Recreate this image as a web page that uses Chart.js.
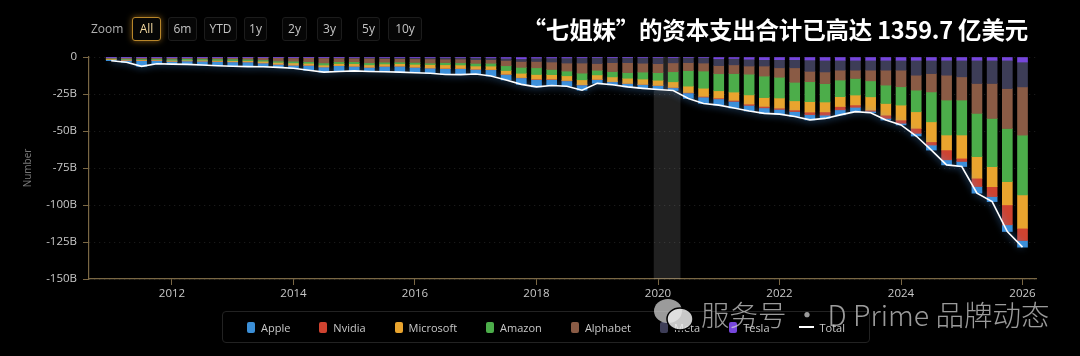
<!DOCTYPE html>
<html lang="zh">
<head>
<meta charset="utf-8">
<title>七姐妹 资本支出</title>
<script src="https://cdn.jsdelivr.net/npm/chart.js@4.4.1/dist/chart.umd.min.js"></script>
<style>
  html, body { margin: 0; padding: 0; background: #000; }
  body {
    width: 1080px; height: 356px; position: relative; overflow: hidden;
    font-family: "Open Sans", "Noto Sans", sans-serif;
  }
  #capex-chart { position: absolute; left: 0; top: 0; }
  .zoom-label { position: absolute; left: 91px; top: 20px; font-size: 12px; color: #b0b0b0; }
  .zoom-btn {
    position: absolute; top: 17px; height: 24px; box-sizing: border-box;
    border: 1px solid #1c1c1c; border-radius: 3px; background: #060606;
    color: #c4c4c4; font-size: 12px; line-height: 22px; text-align: center;
  }
  .zoom-btn.active {
    border-color: #b8862a; color: #f3d9a0;
    box-shadow: 0 0 6px rgba(230, 160, 40, 0.55);
  }
  .title {
    position: absolute; right: 52px; top: 12px; white-space: nowrap;
    font-family: "Noto Sans CJK SC", sans-serif; font-weight: 700;
    font-size: 23.5px; color: #fff; letter-spacing: -0.2px;
  }
  #legend {
    position: absolute; left: 222px; top: 311px; width: 648px; height: 32px;
    box-sizing: border-box; border: 1px solid #222; border-radius: 4px;
    display: flex; align-items: center; justify-content: center; gap: 29px;
    font-size: 11px; color: #c8c8c8;
  }
  #legend .item { display: flex; align-items: center; gap: 6px; }
  #legend .box { width: 8px; height: 11px; border-radius: 2px; }
  #legend .line { width: 15px; height: 2px; background: #fff; }
  .watermark {
    position: absolute; left: 652px; top: 293px; white-space: nowrap;
    font-size: 28.5px; color: rgba(215, 215, 215, 0.72);
    font-family: "Noto Sans CJK SC", sans-serif; font-weight: 300;
    display: flex; align-items: center; gap: 5px;
  }
</style>
</head>
<body>
<canvas id="capex-chart" width="1080" height="356"></canvas>

<div class="zoom-label">Zoom</div>
<div class="zoom-btn active" style="left:132px;width:29px;">All</div>
<div class="zoom-btn" style="left:168px;width:29px;">6m</div>
<div class="zoom-btn" style="left:204px;width:33px;">YTD</div>
<div class="zoom-btn" style="left:244px;width:23px;">1y</div>
<div class="zoom-btn" style="left:282px;width:25px;">2y</div>
<div class="zoom-btn" style="left:317px;width:25px;">3y</div>
<div class="zoom-btn" style="left:357px;width:23px;">5y</div>
<div class="zoom-btn" style="left:388px;width:34px;">10y</div>

<div class="title">“七姐妹”的资本支出合计已高达 1359.7 亿美元</div>

<div id="legend"></div>

<div class="watermark">
  <svg width="44" height="36" viewBox="0 0 44 36">
    <ellipse cx="16" cy="15" rx="14" ry="12" fill="rgba(215,215,215,0.72)"/>
    <ellipse cx="28" cy="23" rx="13" ry="11" fill="rgba(235,235,235,0.85)" stroke="#000" stroke-width="1.5"/>
  </svg>
  <span>服务号 · D Prime 品牌动态</span>
</div>

<script>
// Kuartal (akhir kuartal), dari 2010Q4 sampai 2025Q4
const quarters = [
  "2010Q4",
  "2011Q1", "2011Q2", "2011Q3", "2011Q4",
  "2012Q1", "2012Q2", "2012Q3", "2012Q4",
  "2013Q1", "2013Q2", "2013Q3", "2013Q4",
  "2014Q1", "2014Q2", "2014Q3", "2014Q4",
  "2015Q1", "2015Q2", "2015Q3", "2015Q4",
  "2016Q1", "2016Q2", "2016Q3", "2016Q4",
  "2017Q1", "2017Q2", "2017Q3", "2017Q4",
  "2018Q1", "2018Q2", "2018Q3", "2018Q4",
  "2019Q1", "2019Q2", "2019Q3", "2019Q4",
  "2020Q1", "2020Q2", "2020Q3", "2020Q4",
  "2021Q1", "2021Q2", "2021Q3", "2021Q4",
  "2022Q1", "2022Q2", "2022Q3", "2022Q4",
  "2023Q1", "2023Q2", "2023Q3", "2023Q4",
  "2024Q1", "2024Q2", "2024Q3", "2024Q4",
  "2025Q1", "2025Q2", "2025Q3", "2025Q4",
];

// Nilai dalam miliar USD (negatif, seperti di grafik)
const apple = [
  -0.7, -1.33, -3.85, -2.25, -1.79, -2.31, -2.58, -2.82, -2.9, -3.13, -2.56, -2.0, -2.08,
  -3.39, -3.48, -3.95, -3.14, -2.84, -3.73, -4.03, -3.67, -3.5, -4.0, -4.05, -3.18, -4.2,
  -3.75, -4.4, -5.0, -4.15, -3.7, -3.5, -2.55, -2.05, -2.23, -2.58, -2.65, -1.8,
  -3.7, -4.3, -4.2, -4.5, -3.8, -3.7, -3.2, -3.3, -3.5,
  -2.2, -3.4, -2.9, -1.0, -1.1, -1.1, -1.8, -3.4, -3.4, -3.4, -4.5, -3.4, -4.5, -4.5,
];
const nvidia = [
  -0.07, -0.08, -0.1, -0.1, -0.1, -0.12, -0.12, -0.12, -0.1, -0.1, -0.09, -0.08, -0.06,
  -0.05, -0.05, -0.05, -0.06, -0.06, -0.07, -0.07, -0.08, -0.1, -0.15, -0.15, -0.12, -0.15,
  -0.15, -0.2, -0.3, -0.25, -0.2, -0.2, -0.15, -0.1, -0.12, -0.12, -0.15, -0.25,
  -0.3, -0.5, -0.6, -0.7, -0.9, -1.0, -0.9, -1.1, -1.8,
  -2.2, -2.2, -1.6, -0.8, -2.2, -2.2, -3.4, -2.2, -6.7, -2.2, -5.6, -6.7, -13.5, -8.3,
];
const microsoft = [
  -0.45, -0.55, -0.6, -0.55, -0.65, -0.45, -0.55, -0.65, -0.75, -0.85, -1.1, -1.3, -1.5,
  -1.3, -1.25, -1.4, -1.7, -1.6, -1.5, -1.6, -1.9, -2.3, -2.4, -2.3, -2.1, -2.3,
  -2.5, -2.9, -3.1, -3.0, -3.2, -3.3, -3.0, -3.2, -3.5, -3.6, -3.5, -3.8,
  -4.3, -5.5, -4.9, -5.6, -6.2, -6.0, -6.8, -6.2, -7.0,
  -6.7, -6.7, -6.7, -9.0, -7.9, -10.1, -11.2, -13.5, -10.1, -15.7, -14.6, -13.5, -15.7, -22.5,
];
const amazon = [
  -0.3, -0.45, -0.5, -0.6, -0.9, -1.0, -0.9, -1.0, -1.1, -0.9, -0.9, -0.9, -1.1,
  -1.1, -1.4, -1.2, -1.3, -1.4, -1.2, -1.1, -1.3, -1.0, -1.5, -1.5, -1.8, -1.9,
  -3.2, -4.0, -4.5, -3.5, -3.2, -4.5, -3.1, -3.6, -3.8, -4.7, -5.1, -6.8,
  -10.5, -11.6, -11.5, -12.5, -14.0, -14.5, -14.0, -12.5, -13.5,
  -12.4, -11.2, -11.2, -10.8, -12.4, -12.4, -14.6, -20.2, -23.6, -23.6, -29.2, -32.6, -35.9, -40.4,
];
const alphabet = [
  -0.75, -0.9, -0.9, -0.7, -0.95, -0.6, -0.8, -0.9, -1.0, -1.2, -1.6, -2.3, -2.3,
  -2.7, -3.4, -2.5, -2.4, -3.0, -2.5, -2.3, -2.4, -2.8, -2.3, -2.5, -2.5, -2.5,
  -3.6, -4.0, -4.3, -5.0, -5.4, -6.8, -4.6, -6.0, -6.7, -6.0, -6.1, -6.0,
  -5.4, -5.4, -5.5, -5.9, -5.5, -6.8, -6.4, -9.8, -7.0,
  -7.9, -6.7, -5.6, -7.2, -10.1, -11.2, -10.1, -12.4, -16.8, -15.7, -20.2, -23.6, -27.0, -32.6,
];
const meta = [
  -0.2, -0.25, -0.3, -0.35, -0.35, -0.45, -0.4, -0.35, -0.3, -0.3, -0.3, -0.35, -0.5,
  -0.4, -0.45, -0.5, -0.5, -0.55, -0.6, -0.7, -0.8, -0.9, -1.1, -1.1, -1.5, -1.25,
  -1.5, -1.8, -2.3, -2.8, -3.5, -3.6, -4.1, -3.6, -3.6, -3.8, -4.1, -3.5,
  -3.5, -3.7, -4.6, -4.3, -4.6, -4.3, -5.5, -5.5, -7.7,
  -7.9, -6.7, -6.7, -6.7, -6.7, -6.7, -10.1, -9.0, -10.1, -11.2, -15.7, -15.7, -19.1, -16.8,
];
const tesla = [
  -0.03, -0.04, -0.05, -0.05, -0.06, -0.07, -0.05, -0.06, -0.05, -0.02, -0.05, -0.07, -0.06,
  -0.06, -0.17, -0.2, -0.3, -0.35, -0.4, -0.4, -0.45, -0.4, -0.35, -0.3, -0.3, -0.5,
  -0.8, -1.2, -0.7, -0.6, -0.6, -0.5, -0.3, -0.25, -0.25, -0.4, -0.4, -0.45,
  -0.3, -0.4, -1.2, -1.0, -1.5, -1.8, -1.8, -1.8, -2.0,
  -2.2, -2.2, -2.2, -2.2, -2.2, -2.2, -2.2, -2.2, -2.2, -2.2, -2.2, -2.2, -2.2, -3.4,
];
const total = [
  -2.5, -3.6, -6.3, -4.6, -4.8, -5.0, -5.4, -5.9, -6.2, -6.5, -6.6, -7.0, -7.6,
  -9.0, -10.2, -9.8, -9.4, -9.8, -10.0, -10.2, -10.6, -11.0, -11.8, -11.9, -11.5, -12.8,
  -15.5, -18.5, -20.2, -19.3, -19.8, -22.4, -17.8, -18.8, -20.2, -21.2, -22.0, -22.6,
  -28.0, -31.4, -32.5, -34.5, -36.5, -38.1, -38.6, -40.2, -42.5,
  -41.5, -39.1, -36.9, -37.7, -42.6, -45.9, -53.4, -62.9, -72.9, -74.0, -92.0, -97.7, -117.9, -128.5,
];

const yearTicks = [2012, 2014, 2016, 2018, 2020, 2022, 2024, 2026];
const highlightRange = [2019.93, 2020.37];

// Warna tiap perusahaan
const colors = {
  Apple: "#3b8ed6",
  Nvidia: "#cf4330",
  Microsoft: "#e9a42e",
  Amazon: "#4cad4a",
  Alphabet: "#8a5b45",
  Meta: "#3d3d57",
  Tesla: "#7646dc",
};

// "2011Q1" -> 2011.25 (posisi akhir kuartal)
function quarterToYear(q) {
  return Number(q.slice(0, 4)) + Number(q.slice(5)) / 4;
}
const xs = quarters.map(quarterToYear);
const toPoints = (arr) => arr.map((v, i) => ({ x: xs[i], y: v }));

function barSet(label, values) {
  return {
    type: "bar",
    label,
    data: toPoints(values),
    backgroundColor: colors[label],
    barThickness: 10,
    stack: "companies",
  };
}

// Urutan stack: Tesla paling dekat dengan nol, Apple paling bawah
const datasets = [
  barSet("Tesla", tesla),
  barSet("Meta", meta),
  barSet("Alphabet", alphabet),
  barSet("Amazon", amazon),
  barSet("Microsoft", microsoft),
  barSet("Nvidia", nvidia),
  barSet("Apple", apple),
  {
    type: "line",
    label: "Total",
    data: toPoints(total),
    borderColor: "#ffffff",
    borderWidth: 1.6,
    pointRadius: 0,
    tension: 0,
    stack: "total",
    order: -1,
  },
];

const legendOrder = ["Apple", "Nvidia", "Microsoft", "Amazon", "Alphabet", "Meta", "Tesla", "Total"];

// Plugin: garis Total dengan glow biru
const glowPlugin = {
  id: "glow",
  beforeDatasetDraw(chart, args) {
    if (args.meta.type !== "line") return;
    const ctx = chart.ctx;
    ctx.save();
    ctx.shadowColor = "rgba(80, 165, 255, 0.95)";
    ctx.shadowBlur = 7;
  },
  afterDatasetDraw(chart, args) {
    if (args.meta.type !== "line") return;
    chart.ctx.restore();
  },
};

// Plugin: pita abu-abu (highlight) di sekitar 2020
const bandPlugin = {
  id: "band",
  beforeDatasetsDraw(chart) {
    const { ctx, chartArea, scales } = chart;
    const x1 = scales.x.getPixelForValue(highlightRange[0]);
    const x2 = scales.x.getPixelForValue(highlightRange[1]);
    ctx.save();
    ctx.fillStyle = "rgba(255, 255, 255, 0.13)";
    ctx.fillRect(x1, chartArea.top, x2 - x1, chartArea.bottom - chartArea.top);
    ctx.restore();
  },
};

const axisColor = "#7a6744";
const tickFont = { family: "'Open Sans', sans-serif", size: 11.5 };

const chart = new Chart(document.getElementById("capex-chart"), {
  type: "bar",
  data: { datasets },
  options: {
    responsive: false,
    animation: false,
    layout: { padding: { top: 57, right: 44, left: 0, bottom: 0 } },
    plugins: {
      legend: { display: false },
      tooltip: { enabled: false },
    },
    scales: {
      x: {
        type: "linear",
        min: 2010.634,
        max: 2026.222,
        stacked: true,
        offset: false,
        afterBuildTicks: (scale) => {
          scale.ticks = yearTicks.map((v) => ({ value: v }));
        },
        afterFit: (scale) => {
          scale.height = 77;
        },
        ticks: {
          color: "#c8c8c8",
          font: tickFont,
          maxRotation: 0,
          padding: 2,
          callback: (v) => String(v),
        },
        grid: {
          offset: false,
          drawOnChartArea: false,
          drawTicks: true,
          tickLength: 6,
          tickColor: axisColor,
        },
        border: { color: axisColor, width: 1.2 },
      },
      y: {
        stacked: true,
        min: -150,
        max: 0,
        afterFit: (scale) => {
          scale.width = 89;
        },
        ticks: {
          stepSize: 25,
          color: "#c8c8c8",
          font: tickFont,
          padding: 6,
          callback: (v) => (v === 0 ? "0" : v + "B"),
        },
        title: {
          display: true,
          text: "Number",
          color: "#7a7a7a",
          font: { family: "'Open Sans', sans-serif", size: 10 },
          padding: { top: 22, bottom: 0 },
        },
        grid: {
          color: "rgba(255, 255, 255, 0.13)",
          tickColor: axisColor,
          tickLength: 6,
        },
        border: { color: axisColor, width: 1.2, dash: [1, 4] },
      },
    },
  },
  plugins: [bandPlugin, glowPlugin],
});

// Legenda HTML, urut seperti aslinya
const legendEl = document.getElementById("legend");
legendOrder.forEach((name) => {
  const ds = chart.data.datasets.find((d) => d.label === name);
  const item = document.createElement("div");
  item.className = "item";
  const mark = document.createElement("span");
  if (ds.type === "line") {
    mark.className = "line";
  } else {
    mark.className = "box";
    mark.style.background = ds.backgroundColor;
  }
  const text = document.createElement("span");
  text.textContent = name;
  item.appendChild(mark);
  item.appendChild(text);
  legendEl.appendChild(item);
});
</script>
</body>
</html>
